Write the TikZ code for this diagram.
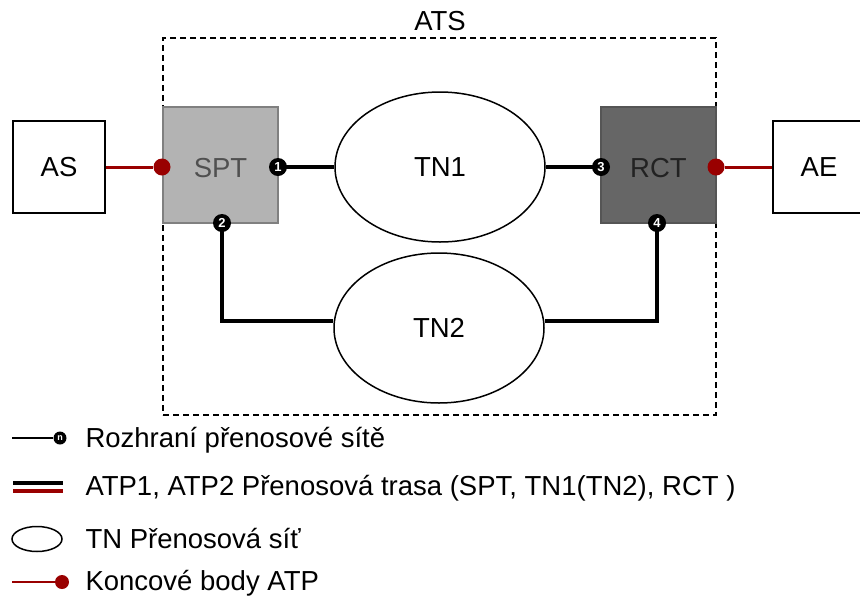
\documentclass[tikz,border=0pt]{standalone}
\usepackage{fontspec}
\setmainfont{Liberation Sans}
\usetikzlibrary{shapes.geometric}
\definecolor{dred}{HTML}{990000}
\definecolor{lgray}{HTML}{B3B3B3}
\definecolor{dgray}{HTML}{666666}
\begin{document}
\begin{tikzpicture}[x=1pt,y=-1pt,
  every node/.style={font=\fontsize{27.5}{32}\selectfont},
  boxw/.style={draw=black,line width=1.5pt,fill=white,minimum width=92pt,minimum height=92pt,inner sep=0pt},
  termbox/.style={line width=1.5pt,minimum width=115pt,minimum height=116pt,inner sep=0pt,text height=24.5pt,text depth=0pt},
  tnet/.style={ellipse,draw=black,line width=1.5pt,fill=white,minimum width=210pt,minimum height=150pt,inner sep=0pt},
  port/.style={circle,fill=black,minimum size=18pt,inner sep=0pt,text=white,font=\fontsize{13}{13}\selectfont\bfseries},
  endpt/.style={circle,fill=dred,minimum size=17pt,inner sep=0pt},
  conn/.style={line width=3.5pt,black},
  rconn/.style={line width=3pt,dred}]
\useasboundingbox (0,0) rectangle (860,598);
% ATS frame
\node[draw=black,dash pattern=on 6pt off 4pt,line width=1.3pt,minimum width=553pt,minimum height=377pt,inner sep=0pt] (ats) at (439.5,226.5) {};
\node (atslabel) at (440,21) {ATS};
% boxes
\node[boxw] (as) at (59,167) {AS};
\node[boxw,minimum width=92pt] (ae) at (819,167) {AE};
\node[termbox,draw={rgb,255:red,128;green,128;blue,128},fill=lgray,text={rgb,255:red,80;green,80;blue,80}] (spt) at (220.5,165) {SPT};
\node[termbox,draw={rgb,255:red,85;green,85;blue,85},fill=dgray,text={rgb,255:red,34;green,34;blue,34}] (rct) at (658.5,165) {RCT};
\node[tnet] (tn1) at (440,167) {TN1};
\node[tnet] (tn2) at (439,328) {TN2};
% ports
\coordinate (p1c) at (278,167);
\coordinate (p3c) at (601,167);
\coordinate (p2c) at (222,223);
\coordinate (p4c) at (657,223);
\coordinate (c2) at (222,321);
\coordinate (c4) at (657,321);
\draw[conn] (p1c) -- (p1c -| tn1.west);
\draw[conn] (p3c -| tn1.east) -- (p3c);
\draw[conn] (p2c) -- (c2) -- (c2 -| tn2.west);
\draw[conn] (p4c) -- (c4) -- (c4 -| tn2.east);
\node[port] (p1) at (p1c) {1};
\node[port] (p3) at (p3c) {3};
\node[port] (p2) at (p2c) {2};
\node[port] (p4) at (p4c) {4};
% end points
\node[endpt] (e1) at (162,167) {};
\node[endpt] (e2) at (716,167) {};
\draw[rconn] (as.east) -- (e1);
\draw[rconn] (e2) -- (ae.west);
% legend
\coordinate (l1a) at (12,438);
\node[port,minimum size=13pt,font=\fontsize{9}{9}\selectfont\bfseries] (lp) at (60,438) {n};
\draw[line width=1.5pt] (l1a) -- (lp);
\node[anchor=west] (t1) at (82,440) {Rozhraní přenosové sítě};
\coordinate (l2a) at (13,483); \coordinate (l2b) at (63,483);
\coordinate (l2c) at (13,491); \coordinate (l2d) at (63,491);
\draw[line width=3.5pt] (l2a) -- (l2b);
\draw[line width=3.5pt,dred] (l2c) -- (l2d);
\node[anchor=west] (t2) at (82,488) {ATP1, ATP2 Přenosová trasa (SPT, TN1(TN2), RCT )};
\node[ellipse,draw=black,line width=1.5pt,minimum width=50pt,minimum height=25pt,inner sep=0pt] (le) at (37,539) {};
\node[anchor=west] (t3) at (82,539) {TN Přenosová síť};
\coordinate (l4a) at (12,582);
\node[endpt,minimum size=14pt] (lr) at (62,582) {};
\draw[line width=1.5pt,dred] (l4a) -- (lr);
\node[anchor=west] (t4) at (82,583) {Koncové body ATP};
\end{tikzpicture}
\end{document}
